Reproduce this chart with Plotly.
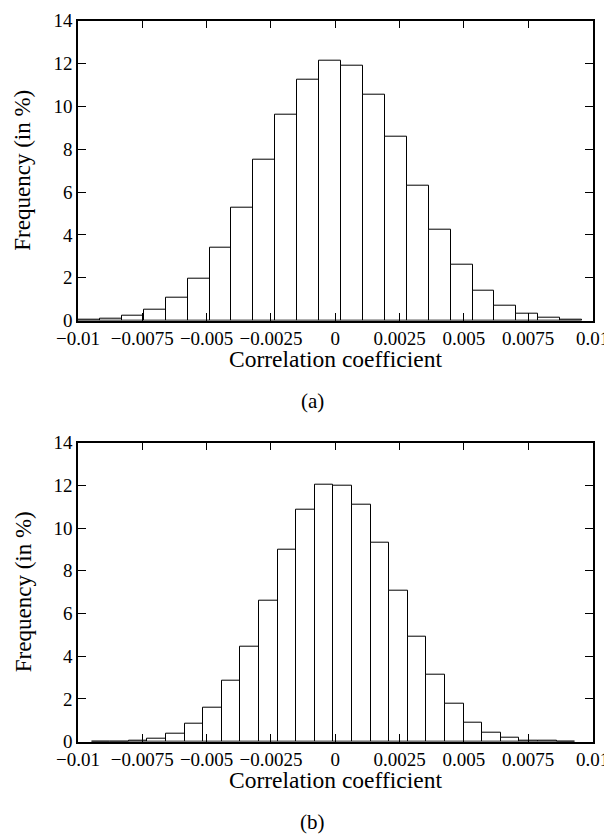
import plotly.graph_objects as go

# histogram (a): 23 bins starting at -0.01
TOP_BIN_START = -0.01
TOP_BIN_WIDTH = 0.000852
TOP_FREQ = [0.03, 0.10, 0.24, 0.51, 1.08, 1.97, 3.41, 5.27, 7.50, 9.63, 11.23,
            12.13, 11.90, 10.54, 8.58, 6.30, 4.25, 2.61, 1.42, 0.72, 0.33, 0.14, 0.05]

# histogram (b): 26 bins
BOTTOM_BIN_START = -0.00947
BOTTOM_BIN_WIDTH = 0.000723
BOTTOM_FREQ = [0.01, 0.02, 0.05, 0.15, 0.38, 0.82, 1.57, 2.85, 4.47, 6.60, 8.97,
               10.87, 12.05, 12.00, 11.08, 9.33, 7.08, 4.93, 3.15, 1.79, 0.91,
               0.44, 0.21, 0.07, 0.03, 0.01]

X_TICKS = [-0.01, -0.0075, -0.005, -0.0025, 0, 0.0025, 0.005, 0.0075, 0.01]
X_TICK_TEXT = ["\u22120.01", "\u22120.0075", "\u22120.005", "\u22120.0025", "0",
               "0.0025", "0.005", "0.0075", "0.01"]
Y_TICKS = [0, 2, 4, 6, 8, 10, 12, 14]

X_TITLE = "Correlation coefficient"
Y_TITLE = "Frequency (in %)"
CAPTIONS = ["(a)", "(b)"]

FONT = "Liberation Serif"
W, H = 612, 834
PAGE_PAD = 8  # the page body margin shifts the whole figure by this much
PLOT_LEFT, PLOT_RIGHT = 78, 592.5
PANELS = [(20.7, 320.7), (442.7, 741.7)]  # top / bottom page rows of each plot area


def px(x):
    return (x - PAGE_PAD) / W


def py(y):
    return 1 - (y - PAGE_PAD) / H


def bar(freq, start, width, xaxis, yaxis):
    return go.Bar(
        y=freq,
        x0=start + width / 2,
        dx=width,
        width=width,
        marker=dict(color="white", line=dict(color="black", width=1)),
        xaxis=xaxis,
        yaxis=yaxis,
        showlegend=False,
        hoverinfo="x+y",
    )


def common_axis():
    return dict(
        automargin=False,
        ticks="inside",
        ticklen=8,
        tickcolor="black",
        showline=True,
        linecolor="black",
        linewidth=1.5,
        mirror="ticks",
        showgrid=False,
        zeroline=False,
        tickfont=dict(family=FONT, size=19, color="black"),
    )


def x_axis(anchor):
    return dict(
        common_axis(),
        domain=[px(PLOT_LEFT), px(PLOT_RIGHT)],
        anchor=anchor,
        range=[-0.01, 0.01],
        tickvals=X_TICKS,
        ticktext=X_TICK_TEXT,
        tickangle=0,
    )


def y_axis(anchor, top, bottom):
    return dict(
        common_axis(),
        domain=[py(bottom), py(top)],
        anchor=anchor,
        range=[0, 14],
        tickvals=Y_TICKS,
    )


def text(label, x, y, size, angle=0):
    return dict(text=label, x=px(x), y=py(y), xref="paper", yref="paper",
                xanchor="center", yanchor="middle", showarrow=False,
                textangle=angle, font=dict(family=FONT, size=size, color="black"))


fig = go.Figure()
fig.add_trace(bar(TOP_FREQ, TOP_BIN_START, TOP_BIN_WIDTH, "x", "y"))
fig.add_trace(bar(BOTTOM_FREQ, BOTTOM_BIN_START, BOTTOM_BIN_WIDTH, "x2", "y2"))

annotations = []
for (top, bottom), caption in zip(PANELS, CAPTIONS):
    annotations.append(text(X_TITLE, 335.5, bottom + 38.5, 23.5))
    annotations.append(text(Y_TITLE, 23, (top + bottom) / 2, 23, angle=-90))
    annotations.append(text(caption, 312, bottom + 80.5, 21))

fig.update_layout(
    width=W,
    height=H,
    margin=dict(l=0, r=0, t=0, b=0),
    paper_bgcolor="white",
    plot_bgcolor="white",
    bargap=0,
    font=dict(family=FONT, color="black"),
    xaxis=x_axis("y"),
    yaxis=y_axis("x", *PANELS[0]),
    xaxis2=x_axis("y2"),
    yaxis2=y_axis("x2", *PANELS[1]),
    annotations=annotations,
)

fig.write_html("out.html")
